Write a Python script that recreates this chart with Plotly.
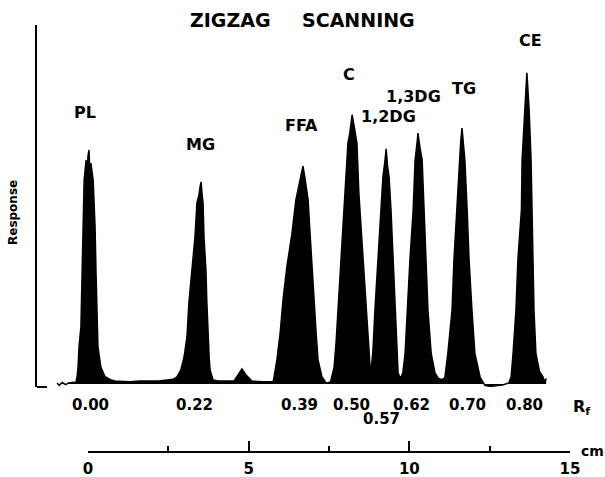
import plotly.graph_objects as go

# ---- data (x: distance along plate in cm, y: response, arbitrary units) ----
trace_cm = [
    -0.96, -0.90, -0.80, -0.70, -0.60, -0.45, -0.38,
    -0.34, -0.31, -0.28, -0.22, -0.19, -0.16, -0.12, -0.06, -0.03, 0.00, 0.03, 0.06, 0.09,
    0.16, 0.22, 0.25, 0.28, 0.31, 0.40, 0.53, 0.70, 0.84, 1.10, 1.31, 1.60, 1.93, 2.20, 2.46, 2.65,
    2.77, 2.89, 2.99, 3.08, 3.14, 3.24, 3.33, 3.39, 3.45, 3.49, 3.52, 3.55, 3.58, 3.61, 3.67, 3.70,
    3.73, 3.77, 3.80, 3.86, 3.89, 4.05, 4.26,
    4.54, 4.67, 4.79, 4.92, 5.10, 5.42, 5.60,
    5.76, 5.79, 5.88, 5.98, 6.07, 6.19, 6.35, 6.47, 6.57, 6.62, 6.69, 6.75, 6.85, 6.91, 6.97, 7.03,
    7.10, 7.16, 7.28, 7.40, 7.47,
    7.55, 7.59, 7.66, 7.72, 7.81, 7.91, 8.00, 8.09, 8.15, 8.22, 8.28, 8.37, 8.43, 8.53, 8.62, 8.71,
    8.78, 8.81,
    8.87, 8.93, 9.03, 9.12, 9.18, 9.24, 9.28, 9.32, 9.37, 9.43, 9.49, 9.55, 9.62, 9.65, 9.71,
    9.76, 9.80, 9.87, 9.93, 10.02, 10.12, 10.18, 10.24, 10.27, 10.33, 10.40, 10.46, 10.52, 10.58,
    10.68, 10.80, 10.90, 11.00, 11.08,
    11.11, 11.20, 11.33, 11.39, 11.48, 11.55, 11.60, 11.64, 11.68, 11.73, 11.80, 11.86, 11.95,
    12.04, 12.20, 12.35, 12.51, 12.70, 12.90, 13.10,
    13.17, 13.23, 13.32, 13.38, 13.49, 13.51, 13.58, 13.63, 13.66, 13.70, 13.73, 13.79, 13.82,
    13.85, 13.88, 13.94, 14.05, 14.16, 14.22, 14.26,
]
trace_resp = [
    0.3, -0.4, 0.4, -0.2, 0.3, 0.5, 0.3,
    2.0, 4.7, 10.3, 15.9, 30.9, 43.7, 56.8, 62.4, 57.0, 63.5, 65.2, 59.0, 61.5,
    56.8, 43.7, 30.9, 15.9, 10.3, 4.7, 2.0, 1.2, 0.8, 0.7, 0.6, 0.8, 0.9, 0.8, 1.1, 1.3,
    2.0, 3.9, 7.5, 13.1, 22.6, 31.8, 41.0, 50.4, 52.5, 55.0, 56.3, 53.0, 50.4, 41.0, 31.8, 22.6,
    13.1, 7.5, 3.9, 2.0, 1.1, 0.8, 0.8,
    0.8, 2.5, 4.2, 2.5, 0.8, 0.6, 0.5,
    0.6, 2.0, 6.7, 14.2, 23.4, 32.6, 42.1, 51.3, 56.0, 58.5, 60.7, 57.5, 51.3, 42.1, 32.6, 23.4,
    14.2, 6.7, 2.0, 0.4, 0.3,
    0.6, 2.0, 4.7, 11.4, 25.4, 39.3, 53.2, 67.1, 70.0, 75.0, 72.0, 67.1, 53.2, 39.3, 25.4, 11.4,
    4.7, 3.3,
    9.5, 20.6, 34.6, 48.5, 57.7, 62.0, 65.5, 61.0, 57.7, 48.5, 34.6, 20.6, 9.5, 3.1, 1.7,
    2.2, 3.1, 8.6, 20.6, 34.6, 48.5, 62.4, 67.0, 69.9, 66.0, 62.4, 48.5, 34.6, 20.6,
    8.6, 3.1, 1.6, 1.2, 1.5,
    2.0, 8.6, 20.6, 34.6, 48.5, 62.4, 67.5, 71.3, 67.0, 62.4, 48.5, 34.6, 20.6,
    8.6, 2.0, -0.4, -0.7, -0.5, -0.3, 0.3,
    2.0, 8.6, 20.6, 34.6, 48.5, 62.4, 76.3, 82.0, 86.7, 81.0, 76.3, 62.4, 48.5,
    34.6, 20.6, 8.6, 3.5, 2.0, 0.5, 1.5,
]

peak_names = ["PL", "MG", "FFA", "C", "1,2DG", "1,3DG", "TG", "CE"]
rf_values = ["0.00", "0.22", "0.39", "0.50", "0.57", "0.62", "0.70", "0.80"]
rf_label_cm = [0.09, 3.30, 6.57, 8.19, 9.15, 10.08, 11.80, 13.60]
cm_major = [0, 5, 10, 15]
cm_minor = [2.5, 7.5, 12.5]

# ---- label placement (layout only) ----
peak_label_xy = [(-0.08, 75.5), (3.49, 66.6), (6.66, 72.1), (8.12, 86.1),
                 (9.34, 74.4), (10.12, 80.2), (11.70, 82.4), (13.76, 95.8)]
RF_ROW_PX = 405
RF_LOW_PX = 419

FONT = "DejaVu Sans"
W, H = 605, 477
ML, MR, MT, MB = 37, 5, 25, 15
PW, PH = W - ML - MR, H - MT - MB


def px_to_paper_x(px):
    return (px - ML) / PW


def px_to_paper_y(py):
    return (H - MB - py) / PH


fig = go.Figure()
fig.add_trace(go.Scatter(
    x=trace_cm, y=trace_resp, mode="lines",
    line=dict(color="black", width=1.5),
    fill="tozeroy", fillcolor="black",
    hoverinfo="skip", showlegend=False,
))
# carrier for the cm ruler axis
fig.add_trace(go.Scatter(
    x=cm_major, y=[0] * len(cm_major), xaxis="x2", yaxis="y",
    mode="markers", marker=dict(opacity=0), hoverinfo="skip", showlegend=False,
))


def bold(size):
    return dict(family=FONT, size=size, color="black", weight="bold")


annotations = []
for name, (lx, ly) in zip(peak_names, peak_label_xy):
    annotations.append(dict(x=lx, y=ly, xref="x", yref="y", text=name, showarrow=False,
                            xanchor="center", yanchor="middle", font=bold(16)))
for val, xc in zip(rf_values, rf_label_cm):
    ypx = RF_LOW_PX if val == "0.57" else RF_ROW_PX
    annotations.append(dict(x=xc, y=px_to_paper_y(ypx), xref="x", yref="paper",
                            text=val, showarrow=False, xanchor="center", yanchor="middle",
                            font=bold(15)))
annotations.append(dict(x=15.35, y=px_to_paper_y(RF_ROW_PX + 2), xref="x", yref="paper",
                        text="R<sub>f</sub>", showarrow=False, xanchor="center",
                        yanchor="middle", font=bold(16)))
annotations.append(dict(x=px_to_paper_x(592), y=px_to_paper_y(451), xref="paper", yref="paper",
                        text="cm", showarrow=False, xanchor="center", yanchor="middle",
                        font=bold(14)))
annotations.append(dict(x=px_to_paper_x(230), y=px_to_paper_y(20), xref="paper", yref="paper",
                        text="ZIGZAG", showarrow=False, xanchor="center", yanchor="middle",
                        font=bold(19)))
annotations.append(dict(x=px_to_paper_x(358), y=px_to_paper_y(20), xref="paper", yref="paper",
                        text="SCANNING", showarrow=False, xanchor="center", yanchor="middle",
                        font=bold(19)))
annotations.append(dict(x=px_to_paper_x(13), y=px_to_paper_y(213), xref="paper", yref="paper",
                        text="Response", textangle=-90, showarrow=False,
                        xanchor="center", yanchor="middle", font=bold(12)))

y_bottom_px = 387.0
fig.update_layout(
    width=W, height=H,
    margin=dict(l=ML, r=MR, t=MT, b=MB, autoexpand=False),
    paper_bgcolor="white", plot_bgcolor="rgba(0,0,0,0)",
    xaxis=dict(domain=[0, 1], range=[(37 - 88) / 32.13, (600 - 88) / 32.13], visible=False),
    yaxis=dict(domain=[px_to_paper_y(y_bottom_px), 1], range=[-0.85, 100],
               showline=True, linecolor="black", linewidth=2, automargin=False,
               showticklabels=False, ticks="", showgrid=False, zeroline=False),
    xaxis2=dict(domain=[px_to_paper_x(88), px_to_paper_x(570)], range=[0, 15],
                anchor="free", position=px_to_paper_y(452), automargin=False,
                showline=True, linecolor="black", linewidth=2,
                ticks="inside", ticklen=10, tickwidth=2, tickcolor="black",
                tickmode="array", tickvals=cm_major, ticktext=[str(v) for v in cm_major],
                minor=dict(tickmode="array", tickvals=cm_minor, ticks="inside", ticklen=5,
                           tickwidth=2, tickcolor="black", showgrid=False),
                showgrid=False, zeroline=False, ticklabelstandoff=3,
                tickfont=bold(15)),
    annotations=annotations,
    shapes=[dict(type="line", xref="paper", yref="paper",
                 x0=0, x1=px_to_paper_x(47), y0=px_to_paper_y(y_bottom_px),
                 y1=px_to_paper_y(y_bottom_px), line=dict(color="black", width=2))],
    showlegend=False,
)

fig.write_html("out.html")
